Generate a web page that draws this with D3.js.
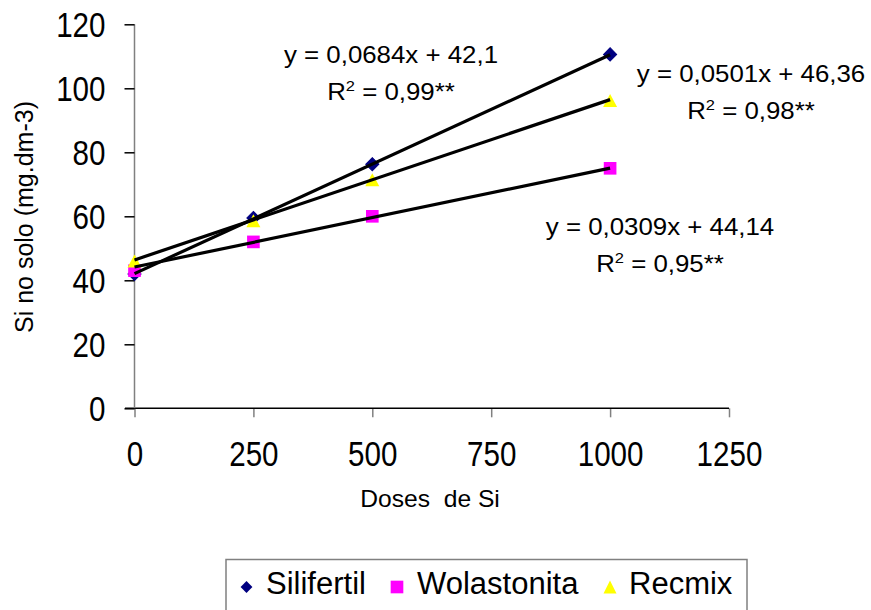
<!DOCTYPE html>
<html>
<head>
<meta charset="utf-8">
<script src="https://cdn.jsdelivr.net/npm/d3@7"></script>
<style>
  body { margin: 0; background: #fff; }
  svg { display: block; font-family: "Liberation Sans", Arial, sans-serif; }
  text { fill: #000; white-space: pre; }
</style>
</head>
<body>
<div id="chart"></div>
<script>
// values
const doses = [0, 250, 500, 1000]
const silifertil = [42, 59.5, 76.3, 110.6]
const wolastonita = [43, 52, 60, 75]
const recmix = [46, 58.6, 71.4, 96.2]

const seriesNames = ["Silifertil", "Wolastonita", "Recmix"]
const seriesColors = ["#000080", "#ff00ff", "#ffff00"]

// trend lines (slope, intercept, R2 label)
const slopes = [0.0684, 0.0309, 0.0501]
const intercepts = [42.1, 44.14, 46.36]
const eqLabels = ["y = 0,0684x + 42,1", "y = 0,0309x + 44,14", "y = 0,0501x + 46,36"]
const r2Labels = ["0,99**", "0,95**", "0,98**"]

const xTicks = [0, 250, 500, 750, 1000, 1250]
const yTicks = [0, 20, 40, 60, 80, 100, 120]

const W = 871, H = 610

const x = d3.scaleLinear().domain([0, 1250]).range([134.5, 729])
const y = d3.scaleLinear().domain([0, 120]).range([408.3, 24.3])

const svg = d3.select("#chart").append("svg").attr("width", W).attr("height", H)

// x axis
const gx = svg.append("g").attr("transform", `translate(0, ${y(0)})`)
  .call(d3.axisBottom(x).tickValues(xTicks).tickSize(9).tickSizeOuter(0).tickFormat(d3.format("d")))
gx.select(".domain").remove()
gx.append("line").attr("x1", 125).attr("x2", x(1250)).attr("stroke", "#000").attr("stroke-width", 1.5)
gx.selectAll(".tick line").attr("stroke", "#808080").attr("stroke-width", 1.5)
gx.selectAll(".tick text")
  .attr("y", null).attr("dy", null)
  .attr("transform", "translate(0, 58) scale(0.97, 1.15)")
  .style("font-size", "30.5px")
  .attr("font-family", null)

// y axis
const gy = svg.append("g").attr("transform", `translate(${x(0)}, 0)`)
  .call(d3.axisLeft(y).tickValues(yTicks).tickSize(10).tickSizeOuter(0))
gy.select(".domain").attr("stroke", "#808080").attr("stroke-width", 1.5)
  .attr("d", `M0,${y(120)}V${y(0)}`)
gy.selectAll(".tick line").attr("stroke", "#000").attr("stroke-width", 1.5)
gy.selectAll(".tick text")
  .attr("x", null).attr("dy", null)
  .attr("transform", "translate(-29, 12.3) scale(0.97, 1.15)")
  .style("font-size", "30.5px")
  .attr("font-family", null)

// axis titles
svg.append("text")
  .attr("transform", "translate(430, 507) scale(1.12, 1.05)")
  .attr("text-anchor", "middle")
  .style("font-size", "22px")
  .text("Doses  de Si")

svg.append("text")
  .attr("transform", "translate(33, 217) rotate(-90)")
  .attr("text-anchor", "middle")
  .style("font-size", "25px")
  .text("Si no solo (mg.dm-3)")

// markers
const diamond = d3.symbol().type(d3.symbolSquare).size(86)
const square = d3.symbol().type(d3.symbolSquare).size(160)
function triangle(w, h) {
  const p = d3.path()
  p.moveTo(0, -h / 2); p.lineTo(w / 2, h / 2); p.lineTo(-w / 2, h / 2); p.closePath()
  return p.toString()
}

const series = [silifertil, wolastonita, recmix]
const markerPaths = [
  () => diamond(),
  () => square(),
  () => triangle(14, 13)
]
const markerRot = [45, 0, 0]

series.forEach(function(vals, i) {
  svg.append("g").selectAll("path")
    .data(vals)
    .join("path")
    .attr("d", markerPaths[i])
    .attr("transform", (d, j) => `translate(${x(doses[j])}, ${y(d)}) rotate(${markerRot[i]})`)
    .attr("fill", seriesColors[i])
    .attr("stroke", i == 0 ? "#000080" : "none")
})

// trend lines over the markers
const trend = d3.line().x(d => x(d[0])).y(d => y(d[1]))
slopes.forEach(function(m, i) {
  const ends = [0, 1000].map(v => [v, m * v + intercepts[i]])
  svg.append("path")
    .attr("d", trend(ends))
    .attr("fill", "none")
    .attr("stroke", "#000")
    .attr("stroke-width", 3.2)
})

// equation labels
const eqPos = [[391, 63, 100], [660, 235, 271.5], [751, 82, 118.5]]
eqLabels.forEach(function(t, i) {
  const p = eqPos[i]
  svg.append("text")
    .attr("transform", `translate(${p[0]}, ${p[1]}) scale(1.1, 1)`)
    .attr("text-anchor", "middle")
    .style("font-size", "23.5px")
    .text(t)
  const r = svg.append("text")
    .attr("transform", `translate(${p[0]}, ${p[2]}) scale(1.1, 1)`)
    .attr("text-anchor", "middle")
    .style("font-size", "23.5px")
  r.append("tspan").text("R")
  r.append("tspan").attr("dy", -9).style("font-size", "15px").text("2")
  r.append("tspan").attr("dy", 9).text(" = " + r2Labels[i])
})

// legend
const legend = svg.append("g")
legend.append("rect")
  .attr("x", 226).attr("y", 559.5).attr("width", 521).attr("height", 70)
  .attr("fill", "#fff").attr("stroke", "#808080").attr("stroke-width", 1.5)

const legendMarkerX = [246.5, 397, 610]
const legendTextX = [266, 417, 629]
const legendShapes = [
  d3.symbol().type(d3.symbolSquare).size(70)(),
  d3.symbol().type(d3.symbolSquare).size(160)(),
  triangle(13, 13)
]
seriesNames.forEach(function(name, i) {
  legend.append("path")
    .attr("d", legendShapes[i])
    .attr("transform", `translate(${legendMarkerX[i]}, 587) rotate(${markerRot[i]})`)
    .attr("fill", seriesColors[i])
  legend.append("text")
    .attr("x", legendTextX[i]).attr("y", 593.5)
    .style("font-size", "31px")
    .text(name)
})
</script>
</body>
</html>
